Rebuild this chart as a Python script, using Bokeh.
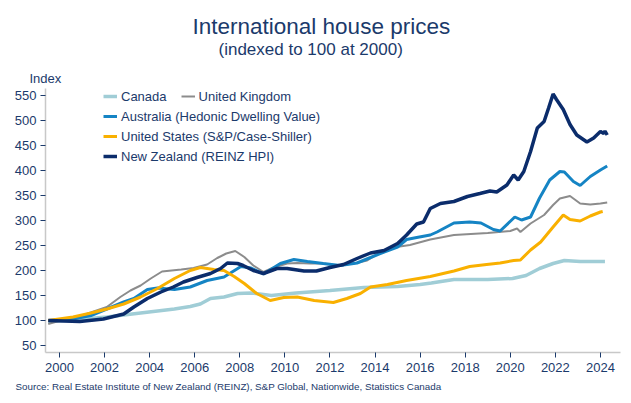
from bokeh.plotting import figure
from bokeh.models import Legend, LegendItem, FixedTicker, Title
from bokeh.embed import file_html
from bokeh.resources import INLINE

# ---------------- data ----------------
canada_x = [1999.5, 2000.6, 2002.1, 2003.6, 2005.1, 2005.8, 2006.25, 2006.7, 2007.3, 2007.9,
            2008.5, 2009.4, 2010.5, 2012.0, 2013.5, 2015.0, 2016.0, 2016.5, 2017.5, 2019.0,
            2020.1, 2020.7, 2021.3, 2021.9, 2022.4, 2023.1, 2024.2]
canada_y = [98, 101, 107, 115, 123, 128, 133, 144, 147, 154,
            155, 150, 155, 160, 166, 168, 172, 175, 182, 182,
            184, 190, 204, 214, 220, 218, 218]

uk_x = [1999.5, 2000.05, 2001.0, 2002.1, 2002.7, 2003.15, 2003.6, 2004.05, 2004.55, 2005.4,
        2005.95, 2006.55, 2007.0, 2007.4, 2007.8, 2008.2, 2008.6, 2009.05, 2009.5, 2010.1,
        2010.55, 2011.1, 2011.7, 2012.3, 2013.05, 2013.65, 2014.25, 2014.8, 2015.55, 2016.45,
        2017.5, 2019.0, 2020.0, 2020.3, 2020.45, 2020.9, 2021.5, 2021.9, 2022.2, 2022.65,
        2023.1, 2023.55, 2024.0, 2024.3]
uk_y = [93, 100, 110, 127, 147, 160, 170, 184, 198, 202,
        205, 212, 225, 234, 239, 227, 210, 197, 206, 214,
        215, 214, 214, 210, 214, 220, 237, 246, 251, 262,
        271, 275, 279, 284, 277, 294, 311, 331, 344, 349,
        334, 332, 334, 336]

aus_x = [1999.5, 2000.6, 2001.4, 2002.1, 2002.85, 2003.3, 2003.9, 2004.35, 2005.1, 2005.8,
         2006.55, 2007.3, 2008.05, 2008.5, 2009.05, 2009.8, 2010.4, 2011.0, 2011.7, 2012.45,
         2013.2, 2013.8, 2014.4, 2015.0, 2015.4, 2015.85, 2016.45, 2016.75, 2017.5, 2018.2,
         2018.7, 2019.25, 2019.55, 2020.2, 2020.5, 2020.9, 2021.3, 2021.75, 2022.2, 2022.4,
         2022.8, 2023.1, 2023.55, 2024.0, 2024.3]
aus_y = [100, 103, 110, 123, 137, 144, 162, 165, 162, 167,
         180, 187, 208, 205, 193, 214, 222, 218, 214, 210,
         215, 226, 237, 247, 262, 266, 271, 277, 295, 297,
         295, 282, 279, 307, 301, 307, 345, 381, 398, 397,
         378, 370, 388, 401, 409]

us_x = [1999.5, 2000.6, 2001.4, 2002.1, 2002.85, 2003.6, 2004.35, 2005.1, 2005.8, 2006.25,
        2006.85, 2007.3, 2007.75, 2008.2, 2008.75, 2009.35, 2009.95, 2010.55, 2011.3, 2012.15,
        2012.75, 2013.35, 2013.8, 2014.55, 2015.4, 2016.45, 2017.5, 2018.2, 2018.95, 2019.55,
        2020.15, 2020.45, 2020.9, 2021.35, 2021.9, 2022.35, 2022.65, 2023.1, 2023.55, 2024.0,
        2024.1]
us_y = [100, 107, 115, 123, 133, 147, 164, 184, 200, 206,
        202, 200, 188, 174, 154, 140, 146, 147, 140, 136,
        144, 154, 167, 172, 180, 188, 199, 208, 212, 215,
        220, 221, 241, 257, 287, 311, 302, 299, 309, 317,
        318]

nz_x = [1999.5, 2000.9, 2001.95, 2002.85, 2003.3, 2003.9, 2004.5, 2005.05, 2005.5, 2006.1,
        2006.7, 2007.15, 2007.45, 2007.9, 2008.15, 2008.6, 2009.05, 2009.65, 2010.1, 2010.85,
        2011.4, 2012.0, 2012.6, 2013.2, 2013.8, 2014.4, 2015.0, 2015.4, 2015.85, 2016.15,
        2016.45, 2016.9, 2017.5, 2018.1, 2018.65, 2019.1, 2019.4, 2019.85, 2020.15, 2020.35,
        2020.6, 2020.9, 2021.2, 2021.5, 2021.7, 2021.9, 2022.05, 2022.35, 2022.65, 2022.95,
        2023.4, 2023.7, 2024.0, 2024.15, 2024.2, 2024.3]
nz_y = [100, 98, 103, 113, 127, 144, 157, 167, 177, 186,
        194, 204, 215, 214, 210, 200, 194, 204, 204, 199,
        199, 206, 212, 224, 235, 240, 254, 271, 293, 297,
        324, 334, 338, 348, 354, 359, 357, 371, 391, 381,
        398, 438, 485, 498, 525, 553, 542, 522, 492, 471,
        457, 465, 478, 474, 479, 471]

x_ticks = [2000, 2002, 2004, 2006, 2008, 2010, 2012, 2014, 2016, 2018, 2020, 2022, 2024]
y_ticks = [50, 100, 150, 200, 250, 300, 350, 400, 450, 500, 550]

title_text = "International house prices"
subtitle_text = "(indexed to 100 at 2000)"
y_label_text = "Index"
source_text = "Source: Real Estate Institute of New Zealand (REINZ), S&P Global, Nationwide, Statistics Canada"

# ---------------- styling ----------------
NAVY = "#1B3A6B"
FONT = "Liberation Sans"
C_CA = "#A0CDD6"
C_UK = "#8C8C8C"
C_AU = "#1584C4"
C_US = "#F9B000"
C_NZ = "#0B2C6B"

X0, X1 = 1999.38, 2024.89
Y0, Y1 = 36, 564

p = figure(width=628, height=398, x_range=(X0, X1), y_range=(Y0, Y1), title=None,
           output_backend="svg", toolbar_location=None,
           min_border_left=45, min_border_right=8, min_border_top=88, min_border_bottom=46)
p.outline_line_color = None
p.xgrid.visible = False
p.ygrid.visible = False
p.background_fill_color = "white"
p.border_fill_color = "white"

for ax in (p.xaxis, p.yaxis):
    ax.axis_line_color = "#C8C8C8"
    ax.axis_line_width = 1.5
    ax.major_tick_line_color = NAVY
    ax.major_tick_in = 0
    ax.major_tick_out = 5
    ax.minor_tick_line_color = None
    ax.major_label_text_font = FONT
    ax.major_label_text_font_size = "13px"
    ax.major_label_text_color = NAVY
p.xaxis.ticker = FixedTicker(ticks=x_ticks)
p.yaxis.ticker = FixedTicker(ticks=y_ticks)
p.xaxis.major_label_standoff = 5
p.yaxis.major_label_standoff = 4

r_ca = p.line(canada_x, canada_y, line_color=C_CA, line_width=3.5)
r_uk = p.line(uk_x, uk_y, line_color=C_UK, line_width=2)
r_au = p.line(aus_x, aus_y, line_color=C_AU, line_width=3)
r_us = p.line(us_x, us_y, line_color=C_US, line_width=3)
r_nz = p.line(nz_x, nz_y, line_color=C_NZ, line_width=3.5)


def make_legend(items, orientation, loc, spacing):
    return Legend(items=items, orientation=orientation, location=loc,
                  glyph_width=14, glyph_height=20, label_height=20, label_standoff=4,
                  spacing=spacing, padding=0, margin=0,
                  border_line_color=None, background_fill_alpha=0,
                  label_text_font=FONT, label_text_font_size="13px", label_text_color=NAVY)

leg1 = make_legend([LegendItem(label="Canada", renderers=[r_ca]),
                    LegendItem(label="United Kingdom", renderers=[r_uk])],
                   "horizontal", (58, 246), 14)
leg2 = make_legend([LegendItem(label="Australia (Hedonic Dwelling Value)", renderers=[r_au]),
                    LegendItem(label="United States (S&P/Case-Shiller)", renderers=[r_us]),
                    LegendItem(label="New Zealand (REINZ HPI)", renderers=[r_nz])],
                   "vertical", (58, 186), 0)
p.add_layout(leg1)
p.add_layout(leg2)

# texts around the frame (titles stack outward from the frame)
p.add_layout(Title(text=y_label_text, align="left", offset=-16, standoff=6,
                   vertical_align="bottom", text_font=FONT, text_font_size="13px",
                   text_font_style="normal", text_color=NAVY), "above")
p.add_layout(Title(text=subtitle_text, align="left", offset=173, standoff=13,
                   vertical_align="bottom", text_font=FONT, text_font_size="17px",
                   text_font_style="normal", text_color=NAVY), "above")
p.add_layout(Title(text=title_text, align="left", offset=147, standoff=-14,
                   vertical_align="bottom", text_font=FONT, text_font_size="22.5px",
                   text_font_style="normal", text_color=NAVY), "above")
p.add_layout(Title(text=source_text, align="left", offset=-30, standoff=8,
                   vertical_align="bottom", text_font=FONT, text_font_size="9.8px",
                   text_font_style="normal", text_color=NAVY), "below")

open("out.html", "w").write(file_html(p, INLINE))
